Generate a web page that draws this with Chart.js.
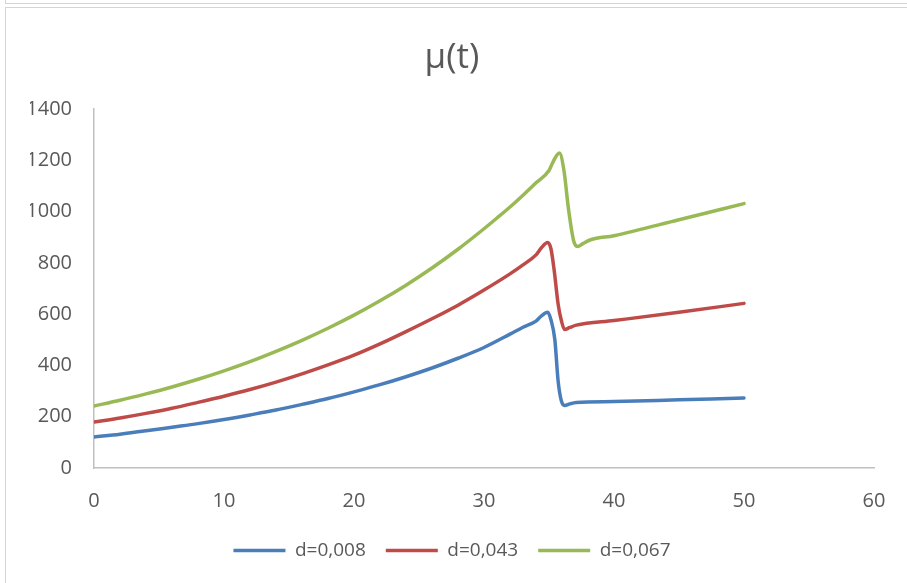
<!DOCTYPE html>
<html>
<head>
<meta charset="utf-8">
<script src="https://cdn.jsdelivr.net/npm/chart.js@4/dist/chart.umd.min.js"></script>
<style>
  html, body { margin: 0; padding: 0; background: #fff; overflow: hidden; }
  .frame { position: absolute; border: 1px solid #d4d4d4; width: 1000px; }
  #above { left: 5px; top: -10px; height: 12px; }
  #box { left: 5px; top: 7px; height: 1000px; }
  #mu { position: absolute; left: 0; top: 0; }
</style>
</head>
<body>
<div class="frame" id="above"></div>
<div class="frame" id="box"></div>
<canvas id="mu" width="907" height="583"></canvas>
<script>
// μ(t) for three values of d
const seriesNames = ['d=0,008', 'd=0,043', 'd=0,067'];
const seriesColors = ['#4a7ebb', '#be4b48', '#98b954'];

const tBlue = [0, 2, 4, 6, 8, 10, 12, 14, 16, 18, 20, 22, 24, 26, 28, 30, 32, 33, 34, 34.4, 34.9, 35.15, 35.45, 35.7, 35.95, 36.2, 36.6, 37.1, 40, 45, 50];
const muBlue = [121, 132, 145, 159, 173, 189, 207, 226, 248, 271, 297, 325, 356, 390, 428, 470, 522, 549, 573, 592, 607, 578, 500, 340, 262, 244, 250, 255, 259, 266, 273];

const tRed = [0, 2, 4, 6, 8, 10, 12, 14, 16, 18, 20, 22, 24, 26, 28, 30, 32, 33, 34, 34.4, 34.9, 35.15, 35.4, 35.7, 35.95, 36.2, 36.6, 37.1, 40, 45, 50];
const muRed = [179, 195, 213, 233, 256, 280, 306, 335, 367, 402, 440, 484, 532, 582, 635, 694, 757, 792, 831, 858, 879, 855, 770, 640, 575, 540, 548, 557, 575, 607, 642];

const tGreen = [0, 2, 4, 6, 8, 10, 12, 14, 16, 18, 20, 22, 24, 26, 28, 30, 31, 32, 33, 34, 35, 35.35, 35.8, 36.15, 36.5, 36.9, 37.2, 37.6, 38.2, 40, 45, 50];
const muGreen = [242, 264, 289, 316, 346, 379, 415, 455, 498, 545, 596, 652, 713, 780, 853, 933, 975, 1018, 1064, 1112, 1160, 1198, 1228, 1160, 1010, 885, 864, 875, 890, 906, 968, 1031];

const xTicks = [0, 10, 20, 30, 40, 50, 60];
const yTicks = [0, 200, 400, 600, 800, 1000, 1200, 1400];

const toPoints = (ts, vs) => ts.map((t, i) => ({ x: t, y: vs[i] }));

const makeSet = (i, ts, vs) => ({
  label: seriesNames[i],
  data: toPoints(ts, vs),
  borderColor: seriesColors[i],
  backgroundColor: seriesColors[i],
  borderWidth: 3.5,
  borderCapStyle: 'round',
  borderJoinStyle: 'round',
  pointRadius: 0,
  pointStyle: 'line',
  cubicInterpolationMode: 'monotone'
});

const gray = '#595959';
const tickFont = { family: 'Open Sans', size: 20 };

new Chart(document.getElementById('mu'), {
  type: 'line',
  data: {
    datasets: [
      makeSet(0, tBlue, muBlue),
      makeSet(1, tRed, muRed),
      makeSet(2, tGreen, muGreen)
    ]
  },
  options: {
    responsive: false,
    animation: false,
    layout: { padding: { left: 30, right: 33, top: 0, bottom: 13 } },
    scales: {
      x: {
        type: 'linear',
        min: xTicks[0],
        max: xTicks[xTicks.length - 1],
        afterBuildTicks: (scale) => { scale.ticks = xTicks.map(v => ({ value: v })); },
        afterFit: (scale) => { scale.height = 53; },
        grid: { display: false, drawTicks: false },
        border: { display: true, color: '#bfbfbf', width: 1.5 },
        ticks: { padding: 21, color: gray, font: tickFont, callback: (v) => String(v) }
      },
      y: {
        min: yTicks[0],
        max: yTicks[yTicks.length - 1],
        afterBuildTicks: (scale) => { scale.ticks = yTicks.map(v => ({ value: v })); },
        afterFit: (scale) => { scale.width = 64; },
        grid: { display: false, drawTicks: false },
        border: { display: true, color: '#bfbfbf', width: 1.5 },
        ticks: { padding: 22, color: gray, font: tickFont, callback: (v) => String(v) }
      }
    },
    plugins: {
      title: {
        display: true,
        text: 'μ(t)',
        color: gray,
        font: { family: 'Open Sans', size: 35, weight: 'normal' },
        padding: { top: 37, bottom: 30 }
      },
      legend: {
        position: 'bottom',
        labels: {
          usePointStyle: true,
          pointStyleWidth: 52,
          padding: 20,
          color: gray,
          font: { family: 'Open Sans', size: 19 }
        }
      },
      tooltip: { enabled: false }
    }
  }
});
</script>
</body>
</html>
